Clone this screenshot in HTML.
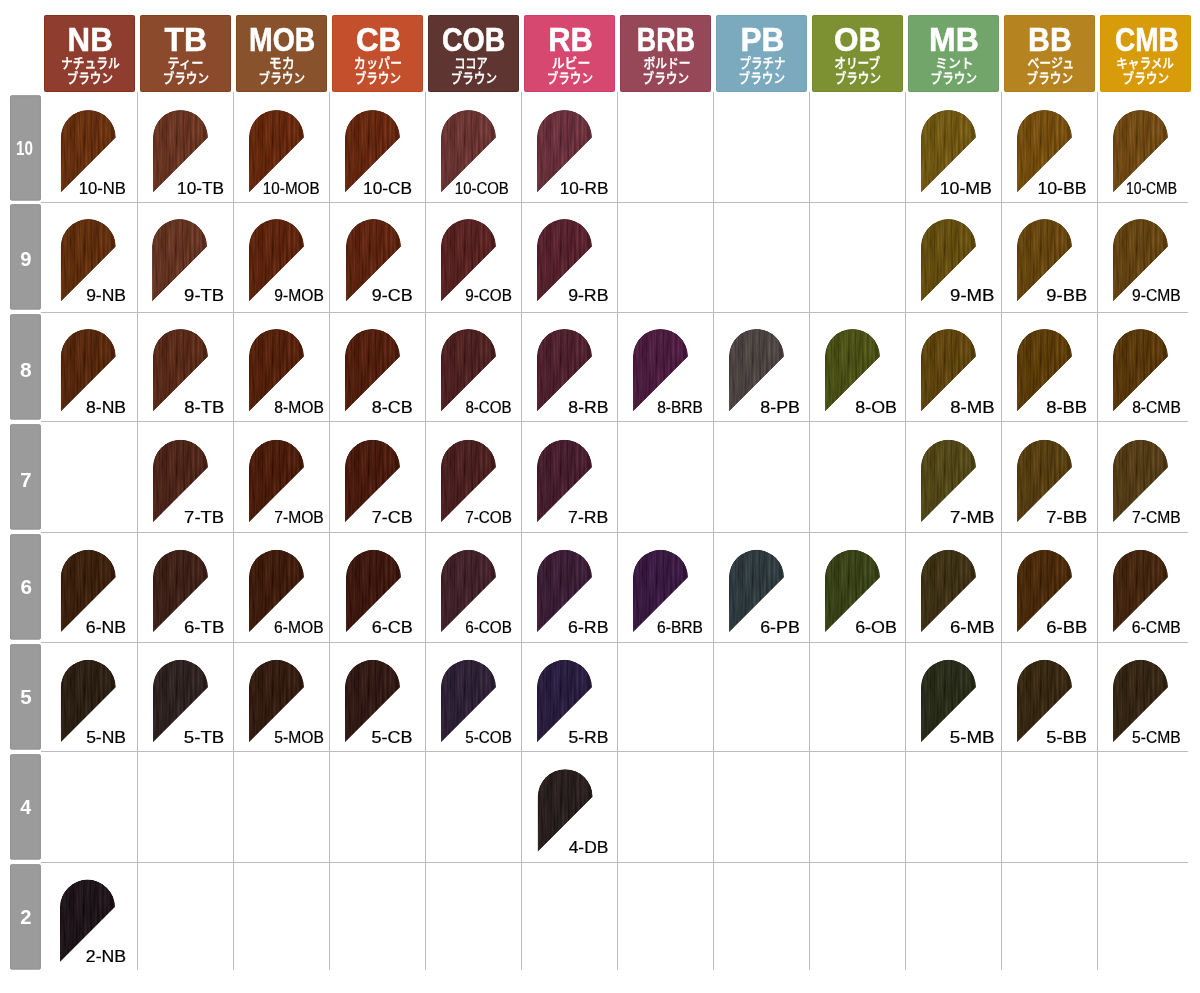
<!DOCTYPE html>
<html lang="ja"><head><meta charset="utf-8"><title>Color Chart</title>
<style>
html,body{margin:0;padding:0;background:#fff}
svg{display:block}
.h{font-family:"Liberation Sans",sans-serif;font-weight:700;fill:#fff;font-size:33.6px;stroke:#fff;stroke-width:.5px}
.k{font-family:"Liberation Sans","Noto Sans CJK JP",sans-serif;font-weight:500;fill:#fff;font-size:13.2px;stroke:#fff;stroke-width:.3px}
.r{font-family:"Liberation Sans",sans-serif;font-weight:700;fill:#fff;font-size:20.5px}
.l{font-family:"Liberation Sans",sans-serif;fill:#000;font-size:15.6px;stroke:#000;stroke-width:.2px}
.g{stroke:#bcbcbc;stroke-width:1;shape-rendering:crispEdges}
</style></head><body>
<svg width="1200" height="993" viewBox="0 0 1200 993">
<defs>
<filter id="hair" x="0" y="0" width="1" height="1" color-interpolation-filters="sRGB">
<feTurbulence type="fractalNoise" baseFrequency="0.4 0.025" numOctaves="3" seed="7" result="n"/>
<feColorMatrix in="n" type="matrix" values="1 0 0 0 0  1 0 0 0 0  1 0 0 0 0  0 0 0 0 1" result="g"/>
<feComposite in="SourceGraphic" in2="g" operator="arithmetic" k1="0.44" k2="0.78" k3="0.12" k4="-0.06" result="t"/>
<feComposite in="t" in2="SourceAlpha" operator="in"/>
</filter>
<path id="sw" d="M0,27.5A27.5,27.5 0 0 1 55,27.5L0,82.5Z"/>
</defs>
<rect width="1200" height="993" fill="#fff"/>
<line class="g" x1="137.5" y1="92" x2="137.5" y2="969.6"/><line class="g" x1="233.5" y1="92" x2="233.5" y2="969.6"/><line class="g" x1="329.5" y1="92" x2="329.5" y2="969.6"/><line class="g" x1="425.5" y1="92" x2="425.5" y2="969.6"/><line class="g" x1="521.5" y1="92" x2="521.5" y2="969.6"/><line class="g" x1="617.5" y1="92" x2="617.5" y2="969.6"/><line class="g" x1="713.5" y1="92" x2="713.5" y2="969.6"/><line class="g" x1="809.5" y1="92" x2="809.5" y2="969.6"/><line class="g" x1="905.5" y1="92" x2="905.5" y2="969.6"/><line class="g" x1="1001.5" y1="92" x2="1001.5" y2="969.6"/><line class="g" x1="1097.5" y1="92" x2="1097.5" y2="969.6"/><line class="g" x1="41" y1="202.5" x2="1188" y2="202.5"/><line class="g" x1="41" y1="312.5" x2="1188" y2="312.5"/><line class="g" x1="41" y1="421.5" x2="1188" y2="421.5"/><line class="g" x1="41" y1="532.5" x2="1188" y2="532.5"/><line class="g" x1="41" y1="642.5" x2="1188" y2="642.5"/><line class="g" x1="41" y1="751.5" x2="1188" y2="751.5"/><line class="g" x1="41" y1="862.5" x2="1188" y2="862.5"/>
<rect x="44.5" y="15.5" width="90" height="76" rx="1" fill="#8f3d2e" stroke="#8a2e1c" stroke-width="1"/><text class="h" x="67.60" y="50.5" textLength="45.11" lengthAdjust="spacingAndGlyphs">NB</text><text class="k" x="60.93" y="67.6" textLength="59.00" lengthAdjust="spacingAndGlyphs">ナチュラル</text><text class="k" x="66.64" y="82.6" textLength="46.38" lengthAdjust="spacingAndGlyphs">ブラウン</text>
<rect x="140.5" y="15.5" width="90" height="76" rx="1" fill="#8c4a2d" stroke="#87401e" stroke-width="1"/><text class="h" x="164.41" y="50.5" textLength="42.50" lengthAdjust="spacingAndGlyphs">TB</text><text class="k" x="167.43" y="67.6" textLength="36.04" lengthAdjust="spacingAndGlyphs">ティー</text><text class="k" x="162.63" y="82.6" textLength="46.38" lengthAdjust="spacingAndGlyphs">ブラウン</text>
<rect x="236.5" y="15.5" width="90" height="76" rx="1" fill="#87522c" stroke="#824a20" stroke-width="1"/><text class="h" x="249.04" y="50.5" textLength="66.25" lengthAdjust="spacingAndGlyphs">MOB</text><text class="k" x="268.70" y="67.6" textLength="26.18" lengthAdjust="spacingAndGlyphs">モカ</text><text class="k" x="258.62" y="82.6" textLength="46.40" lengthAdjust="spacingAndGlyphs">ブラウン</text>
<rect x="332.5" y="15.5" width="90" height="76" rx="1" fill="#c44f2c" stroke="#c0451f" stroke-width="1"/><text class="h" x="355.90" y="50.5" textLength="45.35" lengthAdjust="spacingAndGlyphs">CB</text><text class="k" x="353.83" y="67.6" textLength="48.29" lengthAdjust="spacingAndGlyphs">カッパー</text><text class="k" x="354.63" y="82.6" textLength="46.40" lengthAdjust="spacingAndGlyphs">ブラウン</text>
<rect x="428.5" y="15.5" width="90" height="76" rx="1" fill="#5e3530" stroke="#572c27" stroke-width="1"/><text class="h" x="441.90" y="50.5" textLength="63.41" lengthAdjust="spacingAndGlyphs">COB</text><text class="k" x="454.18" y="67.6" textLength="33.58" lengthAdjust="spacingAndGlyphs">ココア</text><text class="k" x="450.63" y="82.6" textLength="46.39" lengthAdjust="spacingAndGlyphs">ブラウン</text>
<rect x="524.5" y="15.5" width="90" height="76" rx="1" fill="#d6486f" stroke="#d23d66" stroke-width="1"/><text class="h" x="548.14" y="50.5" textLength="44.63" lengthAdjust="spacingAndGlyphs">RB</text><text class="k" x="551.63" y="67.6" textLength="38.63" lengthAdjust="spacingAndGlyphs">ルビー</text><text class="k" x="546.63" y="82.6" textLength="46.40" lengthAdjust="spacingAndGlyphs">ブラウン</text>
<rect x="620.5" y="15.5" width="90" height="76" rx="1" fill="#974858" stroke="#913e4f" stroke-width="1"/><text class="h" x="636.85" y="50.5" textLength="58.19" lengthAdjust="spacingAndGlyphs">BRB</text><text class="k" x="643.43" y="67.6" textLength="47.24" lengthAdjust="spacingAndGlyphs">ボルドー</text><text class="k" x="642.62" y="82.6" textLength="46.40" lengthAdjust="spacingAndGlyphs">ブラウン</text>
<rect x="716.5" y="15.5" width="90" height="76" rx="1" fill="#7ba9bd" stroke="#72a3b8" stroke-width="1"/><text class="h" x="740.45" y="50.5" textLength="43.99" lengthAdjust="spacingAndGlyphs">PB</text><text class="k" x="739.55" y="67.6" textLength="45.86" lengthAdjust="spacingAndGlyphs">プラチナ</text><text class="k" x="738.61" y="82.6" textLength="46.41" lengthAdjust="spacingAndGlyphs">ブラウン</text>
<rect x="812.5" y="15.5" width="90" height="76" rx="1" fill="#7d9133" stroke="#768b28" stroke-width="1"/><text class="h" x="833.99" y="50.5" textLength="47.24" lengthAdjust="spacingAndGlyphs">OB</text><text class="k" x="834.20" y="67.6" textLength="46.12" lengthAdjust="spacingAndGlyphs">オリーブ</text><text class="k" x="834.63" y="82.6" textLength="46.39" lengthAdjust="spacingAndGlyphs">ブラウン</text>
<rect x="908.5" y="15.5" width="90" height="76" rx="1" fill="#72a56a" stroke="#699f61" stroke-width="1"/><text class="h" x="929.02" y="50.5" textLength="49.81" lengthAdjust="spacingAndGlyphs">MB</text><text class="k" x="935.00" y="67.6" textLength="38.70" lengthAdjust="spacingAndGlyphs">ミント</text><text class="k" x="930.61" y="82.6" textLength="46.39" lengthAdjust="spacingAndGlyphs">ブラウン</text>
<rect x="1004.5" y="15.5" width="90" height="76" rx="1" fill="#b5831f" stroke="#b07c14" stroke-width="1"/><text class="h" x="1028.12" y="50.5" textLength="43.69" lengthAdjust="spacingAndGlyphs">BB</text><text class="k" x="1027.40" y="67.6" textLength="46.75" lengthAdjust="spacingAndGlyphs">ベージュ</text><text class="k" x="1026.62" y="82.6" textLength="46.40" lengthAdjust="spacingAndGlyphs">ブラウン</text>
<rect x="1100.5" y="15.5" width="90" height="76" rx="1" fill="#d89b0a" stroke="#d49500" stroke-width="1"/><text class="h" x="1114.98" y="50.5" textLength="63.74" lengthAdjust="spacingAndGlyphs">CMB</text><text class="k" x="1116.15" y="67.6" textLength="57.75" lengthAdjust="spacingAndGlyphs">キャラメル</text><text class="k" x="1122.61" y="82.6" textLength="46.40" lengthAdjust="spacingAndGlyphs">ブラウン</text>
<rect x="10.5" y="95.7" width="29.9" height="104.45" rx="1" fill="#9b9b9b" stroke="#919191" stroke-width="1"/><text class="r" x="15.96" y="155.1" textLength="16.88" lengthAdjust="spacingAndGlyphs">10</text>
<rect x="10.5" y="204.65" width="29.9" height="104.5" rx="1" fill="#9b9b9b" stroke="#919191" stroke-width="1"/><text class="r" x="20.22" y="265.7" textLength="11.21" lengthAdjust="spacingAndGlyphs">9</text>
<rect x="10.5" y="314.65" width="29.9" height="104.5" rx="1" fill="#9b9b9b" stroke="#919191" stroke-width="1"/><text class="r" x="20.12" y="377.0" textLength="11.66" lengthAdjust="spacingAndGlyphs">8</text>
<rect x="10.5" y="424.65" width="29.9" height="104.5" rx="1" fill="#9b9b9b" stroke="#919191" stroke-width="1"/><text class="r" x="20.24" y="487.1" textLength="11.24" lengthAdjust="spacingAndGlyphs">7</text>
<rect x="10.5" y="534.65" width="29.9" height="104.5" rx="1" fill="#9b9b9b" stroke="#919191" stroke-width="1"/><text class="r" x="20.54" y="594.3" textLength="11.52" lengthAdjust="spacingAndGlyphs">6</text>
<rect x="10.5" y="644.65" width="29.9" height="104.5" rx="1" fill="#9b9b9b" stroke="#919191" stroke-width="1"/><text class="r" x="20.21" y="704.3" textLength="11.49" lengthAdjust="spacingAndGlyphs">5</text>
<rect x="10.5" y="754.65" width="29.9" height="104.5" rx="1" fill="#9b9b9b" stroke="#919191" stroke-width="1"/><text class="r" x="20.24" y="814.3" textLength="10.89" lengthAdjust="spacingAndGlyphs">4</text>
<rect x="10.5" y="864.65" width="29.9" height="104.5" rx="1" fill="#9b9b9b" stroke="#919191" stroke-width="1"/><text class="r" x="20.34" y="924.0" textLength="11.23" lengthAdjust="spacingAndGlyphs">2</text>
<use href="#sw" x="60.8" y="110.0" fill="#642f0f" filter="url(#hair)"/><text class="l" x="78.78" y="193.7" textLength="47.15" lengthAdjust="spacingAndGlyphs">10-NB</text>
<use href="#sw" x="153" y="110.0" fill="#663320" filter="url(#hair)"/><text class="l" x="177.07" y="193.7" textLength="47.00" lengthAdjust="spacingAndGlyphs">10-TB</text>
<use href="#sw" x="249" y="110.0" fill="#62270d" filter="url(#hair)"/><text class="l" x="262.85" y="193.7" textLength="56.78" lengthAdjust="spacingAndGlyphs">10-MOB</text>
<use href="#sw" x="345" y="110.0" fill="#62260f" filter="url(#hair)"/><text class="l" x="363.03" y="193.7" textLength="49.08" lengthAdjust="spacingAndGlyphs">10-CB</text>
<use href="#sw" x="441" y="110.0" fill="#673331" filter="url(#hair)"/><text class="l" x="454.85" y="193.7" textLength="53.95" lengthAdjust="spacingAndGlyphs">10-COB</text>
<use href="#sw" x="537" y="110.0" fill="#662f3a" filter="url(#hair)"/><text class="l" x="559.66" y="193.7" textLength="48.68" lengthAdjust="spacingAndGlyphs">10-RB</text>
<use href="#sw" x="921" y="110.0" fill="#6d5512" filter="url(#hair)"/><text class="l" x="939.66" y="193.7" textLength="52.31" lengthAdjust="spacingAndGlyphs">10-MB</text>
<use href="#sw" x="1017" y="110.0" fill="#714b0e" filter="url(#hair)"/><text class="l" x="1037.42" y="193.7" textLength="49.21" lengthAdjust="spacingAndGlyphs">10-BB</text>
<use href="#sw" x="1113" y="110.0" fill="#6d4713" filter="url(#hair)"/><text class="l" x="1125.93" y="193.7" textLength="50.99" lengthAdjust="spacingAndGlyphs">10-CMB</text>
<use href="#sw" x="60.8" y="219.1" fill="#5d2d0d" filter="url(#hair)"/><text class="l" x="86.15" y="301.3" textLength="39.86" lengthAdjust="spacingAndGlyphs">9-NB</text>
<use href="#sw" x="152.1" y="219.1" fill="#613221" filter="url(#hair)"/><text class="l" x="184.14" y="301.3" textLength="40.04" lengthAdjust="spacingAndGlyphs">9-TB</text>
<use href="#sw" x="249" y="219.1" fill="#5b230d" filter="url(#hair)"/><text class="l" x="274.29" y="301.3" textLength="49.53" lengthAdjust="spacingAndGlyphs">9-MOB</text>
<use href="#sw" x="346" y="219.1" fill="#5b230f" filter="url(#hair)"/><text class="l" x="371.77" y="301.3" textLength="40.90" lengthAdjust="spacingAndGlyphs">9-CB</text>
<use href="#sw" x="441" y="219.1" fill="#562121" filter="url(#hair)"/><text class="l" x="465.16" y="301.3" textLength="46.73" lengthAdjust="spacingAndGlyphs">9-COB</text>
<use href="#sw" x="537" y="219.1" fill="#54212d" filter="url(#hair)"/><text class="l" x="568.15" y="301.3" textLength="40.31" lengthAdjust="spacingAndGlyphs">9-RB</text>
<use href="#sw" x="921" y="219.1" fill="#614c0f" filter="url(#hair)"/><text class="l" x="950.05" y="301.3" textLength="44.46" lengthAdjust="spacingAndGlyphs">9-MB</text>
<use href="#sw" x="1017" y="219.1" fill="#63430e" filter="url(#hair)"/><text class="l" x="1046.32" y="301.3" textLength="40.82" lengthAdjust="spacingAndGlyphs">9-BB</text>
<use href="#sw" x="1113" y="219.1" fill="#614112" filter="url(#hair)"/><text class="l" x="1132.10" y="301.3" textLength="48.69" lengthAdjust="spacingAndGlyphs">9-CMB</text>
<use href="#sw" x="60.8" y="329.0" fill="#54270d" filter="url(#hair)"/><text class="l" x="86.07" y="412.7" textLength="39.99" lengthAdjust="spacingAndGlyphs">8-NB</text>
<use href="#sw" x="153" y="329.0" fill="#562918" filter="url(#hair)"/><text class="l" x="184.31" y="412.7" textLength="40.07" lengthAdjust="spacingAndGlyphs">8-TB</text>
<use href="#sw" x="249" y="329.0" fill="#52200b" filter="url(#hair)"/><text class="l" x="274.26" y="412.7" textLength="49.60" lengthAdjust="spacingAndGlyphs">8-MOB</text>
<use href="#sw" x="345" y="329.0" fill="#501e0d" filter="url(#hair)"/><text class="l" x="371.79" y="412.7" textLength="40.92" lengthAdjust="spacingAndGlyphs">8-CB</text>
<use href="#sw" x="441" y="329.0" fill="#4c2121" filter="url(#hair)"/><text class="l" x="465.40" y="412.7" textLength="46.27" lengthAdjust="spacingAndGlyphs">8-COB</text>
<use href="#sw" x="537" y="329.0" fill="#4c202d" filter="url(#hair)"/><text class="l" x="568.37" y="412.7" textLength="40.07" lengthAdjust="spacingAndGlyphs">8-RB</text>
<use href="#sw" x="633" y="329.0" fill="#4a1c3d" filter="url(#hair)"/><text class="l" x="657.21" y="412.7" textLength="45.55" lengthAdjust="spacingAndGlyphs">8-BRB</text>
<use href="#sw" x="729" y="329.0" fill="#4a4240" filter="url(#hair)"/><text class="l" x="760.35" y="412.7" textLength="39.67" lengthAdjust="spacingAndGlyphs">8-PB</text>
<use href="#sw" x="825" y="329.0" fill="#484e15" filter="url(#hair)"/><text class="l" x="855.36" y="412.7" textLength="41.53" lengthAdjust="spacingAndGlyphs">8-OB</text>
<use href="#sw" x="921" y="329.0" fill="#5c430e" filter="url(#hair)"/><text class="l" x="950.21" y="412.7" textLength="44.37" lengthAdjust="spacingAndGlyphs">8-MB</text>
<use href="#sw" x="1017" y="329.0" fill="#593a08" filter="url(#hair)"/><text class="l" x="1046.17" y="412.7" textLength="41.01" lengthAdjust="spacingAndGlyphs">8-BB</text>
<use href="#sw" x="1113" y="329.0" fill="#56360a" filter="url(#hair)"/><text class="l" x="1132.17" y="412.7" textLength="48.68" lengthAdjust="spacingAndGlyphs">8-CMB</text>
<use href="#sw" x="153" y="439.7" fill="#4b2418" filter="url(#hair)"/><text class="l" x="184.13" y="522.9" textLength="40.05" lengthAdjust="spacingAndGlyphs">7-TB</text>
<use href="#sw" x="249" y="439.7" fill="#491c0b" filter="url(#hair)"/><text class="l" x="274.28" y="522.9" textLength="49.52" lengthAdjust="spacingAndGlyphs">7-MOB</text>
<use href="#sw" x="345" y="439.7" fill="#471a0d" filter="url(#hair)"/><text class="l" x="371.79" y="522.9" textLength="40.93" lengthAdjust="spacingAndGlyphs">7-CB</text>
<use href="#sw" x="441" y="439.7" fill="#491f1f" filter="url(#hair)"/><text class="l" x="465.15" y="522.9" textLength="46.73" lengthAdjust="spacingAndGlyphs">7-COB</text>
<use href="#sw" x="537" y="439.7" fill="#451d2c" filter="url(#hair)"/><text class="l" x="568.14" y="522.9" textLength="40.15" lengthAdjust="spacingAndGlyphs">7-RB</text>
<use href="#sw" x="921" y="439.7" fill="#4f4517" filter="url(#hair)"/><text class="l" x="950.06" y="522.9" textLength="44.46" lengthAdjust="spacingAndGlyphs">7-MB</text>
<use href="#sw" x="1017" y="439.7" fill="#533c10" filter="url(#hair)"/><text class="l" x="1046.35" y="522.9" textLength="40.81" lengthAdjust="spacingAndGlyphs">7-BB</text>
<use href="#sw" x="1113" y="439.7" fill="#513a16" filter="url(#hair)"/><text class="l" x="1132.09" y="522.9" textLength="48.70" lengthAdjust="spacingAndGlyphs">7-CMB</text>
<use href="#sw" x="60.8" y="549.8" fill="#3a200d" filter="url(#hair)"/><text class="l" x="85.81" y="632.7" textLength="40.35" lengthAdjust="spacingAndGlyphs">6-NB</text>
<use href="#sw" x="153" y="549.8" fill="#3c2018" filter="url(#hair)"/><text class="l" x="183.97" y="632.7" textLength="40.34" lengthAdjust="spacingAndGlyphs">6-TB</text>
<use href="#sw" x="249" y="549.8" fill="#3d1b0c" filter="url(#hair)"/><text class="l" x="274.09" y="632.7" textLength="49.55" lengthAdjust="spacingAndGlyphs">6-MOB</text>
<use href="#sw" x="346" y="549.8" fill="#3c170e" filter="url(#hair)"/><text class="l" x="371.68" y="632.7" textLength="41.02" lengthAdjust="spacingAndGlyphs">6-CB</text>
<use href="#sw" x="441" y="549.8" fill="#402129" filter="url(#hair)"/><text class="l" x="465.20" y="632.7" textLength="46.65" lengthAdjust="spacingAndGlyphs">6-COB</text>
<use href="#sw" x="537" y="549.8" fill="#3a1d34" filter="url(#hair)"/><text class="l" x="568.09" y="632.7" textLength="40.38" lengthAdjust="spacingAndGlyphs">6-RB</text>
<use href="#sw" x="633" y="549.8" fill="#38193f" filter="url(#hair)"/><text class="l" x="657.05" y="632.7" textLength="45.88" lengthAdjust="spacingAndGlyphs">6-BRB</text>
<use href="#sw" x="729" y="549.8" fill="#2e393d" filter="url(#hair)"/><text class="l" x="760.20" y="632.7" textLength="39.67" lengthAdjust="spacingAndGlyphs">6-PB</text>
<use href="#sw" x="825" y="549.8" fill="#384017" filter="url(#hair)"/><text class="l" x="855.19" y="632.7" textLength="41.71" lengthAdjust="spacingAndGlyphs">6-OB</text>
<use href="#sw" x="921" y="549.8" fill="#3c3015" filter="url(#hair)"/><text class="l" x="949.97" y="632.7" textLength="44.64" lengthAdjust="spacingAndGlyphs">6-MB</text>
<use href="#sw" x="1017" y="549.8" fill="#48290a" filter="url(#hair)"/><text class="l" x="1046.27" y="632.7" textLength="40.93" lengthAdjust="spacingAndGlyphs">6-BB</text>
<use href="#sw" x="1113" y="549.8" fill="#42250f" filter="url(#hair)"/><text class="l" x="1131.79" y="632.7" textLength="49.06" lengthAdjust="spacingAndGlyphs">6-CMB</text>
<use href="#sw" x="60.8" y="659.8" fill="#2b1f14" filter="url(#hair)"/><text class="l" x="86.15" y="742.9" textLength="39.88" lengthAdjust="spacingAndGlyphs">5-NB</text>
<use href="#sw" x="153" y="659.8" fill="#2d211f" filter="url(#hair)"/><text class="l" x="183.86" y="742.9" textLength="40.41" lengthAdjust="spacingAndGlyphs">5-TB</text>
<use href="#sw" x="249" y="659.8" fill="#331b10" filter="url(#hair)"/><text class="l" x="274.35" y="742.9" textLength="49.54" lengthAdjust="spacingAndGlyphs">5-MOB</text>
<use href="#sw" x="345" y="659.8" fill="#311914" filter="url(#hair)"/><text class="l" x="371.61" y="742.9" textLength="41.03" lengthAdjust="spacingAndGlyphs">5-CB</text>
<use href="#sw" x="441" y="659.8" fill="#2d2034" filter="url(#hair)"/><text class="l" x="465.22" y="742.9" textLength="46.62" lengthAdjust="spacingAndGlyphs">5-COB</text>
<use href="#sw" x="537" y="659.8" fill="#281d3d" filter="url(#hair)"/><text class="l" x="568.53" y="742.9" textLength="39.91" lengthAdjust="spacingAndGlyphs">5-RB</text>
<use href="#sw" x="921" y="659.8" fill="#292b1a" filter="url(#hair)"/><text class="l" x="949.73" y="742.9" textLength="44.79" lengthAdjust="spacingAndGlyphs">5-MB</text>
<use href="#sw" x="1017" y="659.8" fill="#352711" filter="url(#hair)"/><text class="l" x="1046.30" y="742.9" textLength="40.74" lengthAdjust="spacingAndGlyphs">5-BB</text>
<use href="#sw" x="1113" y="659.8" fill="#332513" filter="url(#hair)"/><text class="l" x="1131.94" y="742.9" textLength="48.83" lengthAdjust="spacingAndGlyphs">5-CMB</text>
<use href="#sw" x="537.7" y="769.2" fill="#281e1e" filter="url(#hair)"/><text class="l" x="568.68" y="852.6" textLength="39.69" lengthAdjust="spacingAndGlyphs">4-DB</text>
<use href="#sw" x="60.0" y="879.6" fill="#1e141a" filter="url(#hair)"/><text class="l" x="85.89" y="962.4" textLength="40.29" lengthAdjust="spacingAndGlyphs">2-NB</text>
</svg></body></html>
